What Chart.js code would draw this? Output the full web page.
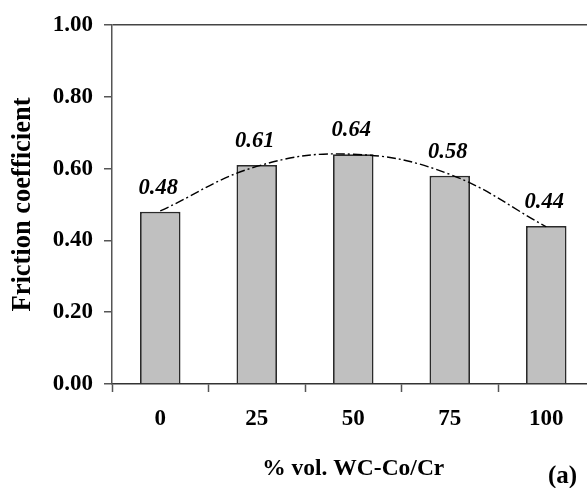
<!DOCTYPE html>
<html>
<head>
<meta charset="utf-8">
<script src="https://cdn.jsdelivr.net/npm/chart.js@4.4.1/dist/chart.umd.min.js"></script>
<style>
  html, body { margin: 0; padding: 0; background: #fff; overflow: hidden; }
  #wrap { width: 600px; height: 488px; }
</style>
</head>
<body>
<div id="wrap"><canvas id="c" width="600" height="488"></canvas></div>
<script>
const categories = ['0', '25', '50', '75', '100'];
const frictionValues = [0.48, 0.61, 0.64, 0.58, 0.44];
const trendValues = [0.482, 0.606, 0.64, 0.584, 0.438];
const yTicks = [0, 0.2, 0.4, 0.6, 0.8, 1.0];
const yTitle = 'Friction coefficient';
const xTitle = '% vol. WC-Co/Cr';
const panelLabel = '(a)';

const FONT = '"Liberation Serif", "Times New Roman", serif';

const valueLabels = {
  id: 'valueLabels',
  afterDatasetsDraw(chart) {
    const ctx = chart.ctx;
    const meta = chart.getDatasetMeta(1);
    ctx.save();
    ctx.font = 'italic bold 22.5px ' + FONT;
    ctx.fillStyle = '#000';
    ctx.textAlign = 'center';
    ctx.textBaseline = 'alphabetic';
    meta.data.forEach((bar, i) => {
      ctx.fillText(frictionValues[i].toFixed(2), bar.x - 2, bar.y - 18);
    });
    ctx.restore();
  }
};

const panelText = {
  id: 'panelText',
  afterDraw(chart) {
    const ctx = chart.ctx;
    ctx.save();
    ctx.font = 'bold 25px ' + FONT;
    ctx.fillStyle = '#000';
    ctx.textAlign = 'left';
    ctx.textBaseline = 'middle';
    ctx.fillText(panelLabel, 548, 477);
    ctx.restore();
  }
};

new Chart(document.getElementById('c'), {
  data: {
    labels: categories,
    datasets: [
      {
        type: 'line',
        data: trendValues,
        borderColor: '#000',
        borderWidth: 1.4,
        borderDash: [9, 3, 2, 3],
        pointRadius: 0,
        tension: 0.4,
        fill: false,
        order: 0
      },
      {
        type: 'bar',
        data: frictionValues,
        backgroundColor: '#c0c0c0',
        borderColor: '#2a2a2a',
        borderWidth: 1.8,
        barPercentage: 0.42,
        categoryPercentage: 1.0,
        order: 1
      }
    ]
  },
  options: {
    responsive: false,
    animation: false,
    events: [],
    layout: { padding: { top: 25, right: 5.5, bottom: 0, left: 0 } },
    plugins: { legend: { display: false }, tooltip: { enabled: false } },
    scales: {
      x: {
        offset: true,
        grid: {
          offset: true,
          drawOnChartArea: false,
          drawTicks: true,
          tickLength: 8,
          tickColor: '#555',
          tickWidth: 1.5
        },
        border: { color: '#333', width: 1.5 },
        ticks: {
          color: '#000',
          font: { family: FONT, size: 23, weight: 'bold' },
          padding: 13,
          maxRotation: 0
        },
        title: {
          display: true,
          text: xTitle,
          color: '#000',
          font: { family: FONT, size: 23.5, weight: 'bold' },
          padding: { top: 0, bottom: 5 }
        },
        afterFit(scale) { scale.height = 104; }
      },
      y: {
        min: 0,
        max: 1,
        afterBuildTicks(scale) { scale.ticks = yTicks.map(v => ({ value: v })); },
        grid: {
          drawOnChartArea: true,
          color: (c) => (c.tick && c.tick.value === 1 ? '#444' : 'rgba(0,0,0,0)'),
          lineWidth: 1.5,
          tickLength: 8,
          tickColor: '#555',
          tickWidth: 1.5
        },
        border: { color: '#555', width: 1.5 },
        ticks: {
          color: '#000',
          font: { family: FONT, size: 23, weight: 'bold' },
          padding: 11,
          callback: (v) => Number(v).toFixed(2)
        },
        title: {
          display: true,
          text: yTitle,
          color: '#000',
          font: { family: FONT, size: 26.5, weight: 'bold' },
          padding: { top: 7, bottom: 0 }
        },
        afterFit(scale) { scale.width = 112; }
      }
    }
  },
  plugins: [valueLabels, panelText]
});
</script>
</body>
</html>
